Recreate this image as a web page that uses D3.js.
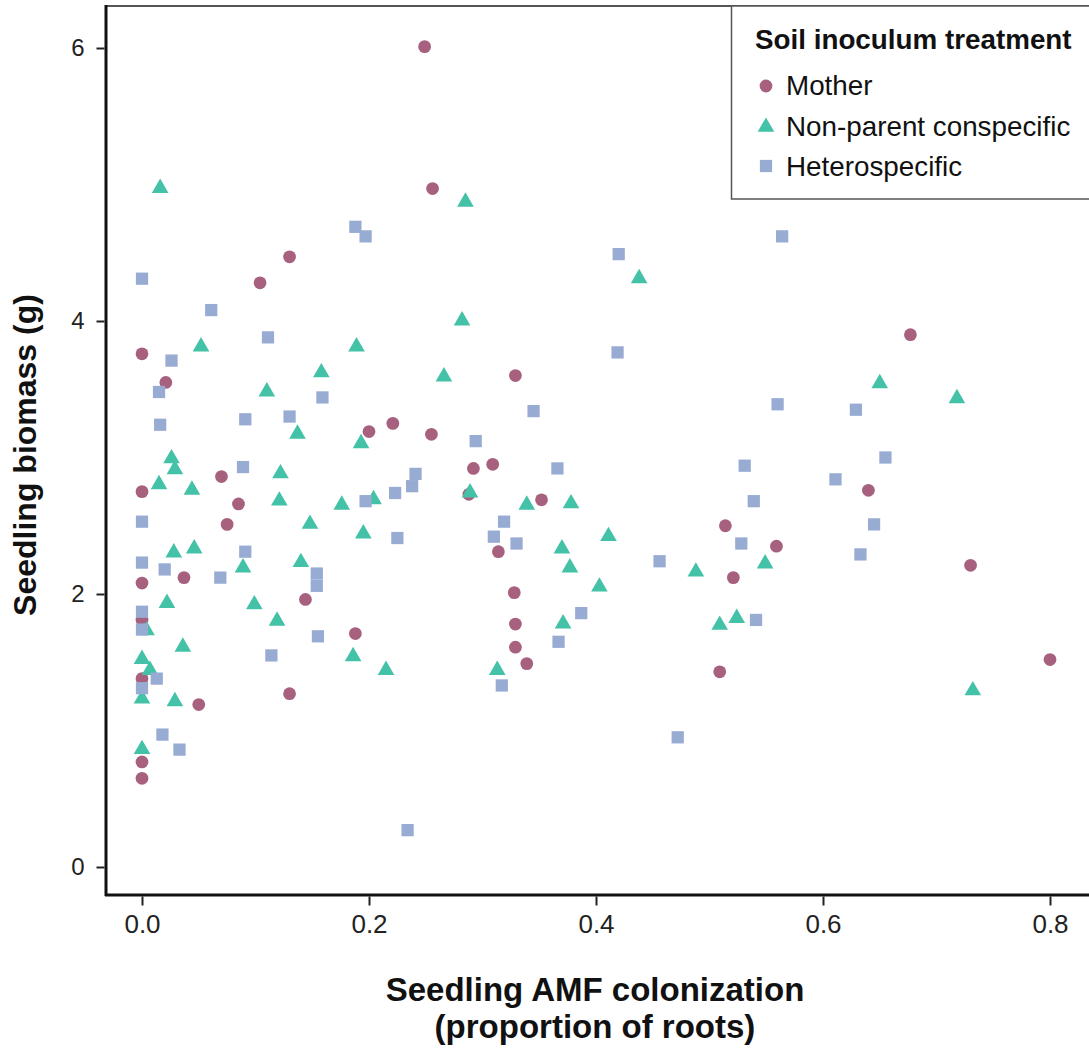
<!DOCTYPE html>
<html><head><meta charset="utf-8">
<script src="https://cdn.jsdelivr.net/npm/d3@7"></script>
<style>body{margin:0;background:#fff}svg{display:block}text{font-family:"Liberation Sans",Arial,sans-serif}</style>
</head><body>
<svg id="c" width="1089" height="1049"></svg>
<script>
const xTicks = [0, 0.2, 0.4, 0.6, 0.8];
const yTicks = [0, 2, 4, 6];
const seriesNames = ["Mother", "Non-parent conspecific", "Heterospecific"];
const seriesColors = ["#a7617f", "#43c2a8", "#97abd3"];
const seriesShapes = ["circle", "triangle", "square"];

const motherX = [0.249,0.256,0.130,0.104,0,0.021,0.677,0.329,0.221,0.200,0.255,0.309,0.292,0.070,0.288,0,0.352,0.085,0.075,0.514,0.559,0.640,0.314,0.037,0,0.521,0.730,0.144,0.328,0,0.329,0.188,0.329,0.339,0.800,0.509,0,0.130,0.050,0,0];
const motherY = [6.01,4.97,4.47,4.28,3.76,3.55,3.90,3.60,3.25,3.19,3.17,2.95,2.92,2.86,2.73,2.75,2.69,2.66,2.51,2.50,2.35,2.76,2.31,2.12,2.08,2.12,2.21,1.96,2.01,1.81,1.78,1.71,1.61,1.49,1.52,1.43,1.38,1.27,1.19,0.77,0.65];

const nonparentX = [0.016,0.285,0.438,0.052,0.189,0.158,0.110,0.137,0.193,0.026,0.029,0.122,0.015,0.044,0.121,0.204,0.176,0.148,0.195,0.028,0.046,0.089,0.140,0.022,0.099,0.119,0.004,0.036,0,0.007,0,0.029,0.186,0.215,0,0.282,0.266,0.289,0.339,0.378,0.411,0.370,0.377,0.488,0.403,0.371,0.313,0.509,0.650,0.718,0.549,0.524,0.732];
const nonparentY = [4.98,4.88,4.32,3.82,3.82,3.63,3.49,3.18,3.11,3.00,2.92,2.89,2.81,2.77,2.69,2.70,2.66,2.52,2.45,2.31,2.34,2.20,2.24,1.94,1.93,1.81,1.74,1.62,1.53,1.45,1.24,1.22,1.55,1.45,0.87,4.01,3.60,2.75,2.66,2.67,2.43,2.34,2.20,2.17,2.06,1.79,1.45,1.78,3.55,3.44,2.23,1.83,1.30];

const heteroX = [0.188,0.197,0,0.061,0.111,0.026,0.015,0.159,0.016,0.091,0.130,0.089,0.197,0.223,0,0.091,0,0.020,0.069,0.154,0.154,0.225,0,0,0.155,0.114,0.013,0,0.018,0.033,0.420,0.419,0.345,0.294,0.366,0.241,0.238,0.319,0.310,0.330,0.456,0.387,0.367,0.317,0.472,0.234,0.564,0.560,0.629,0.655,0.531,0.611,0.539,0.645,0.528,0.633,0.541];
const heteroY = [4.69,4.62,4.31,4.08,3.88,3.71,3.48,3.44,3.24,3.28,3.30,2.93,2.68,2.74,2.53,2.31,2.23,2.18,2.12,2.15,2.06,2.41,1.87,1.74,1.69,1.55,1.38,1.31,0.97,0.86,4.49,3.77,3.34,3.12,2.92,2.88,2.79,2.53,2.42,2.37,2.24,1.86,1.65,1.33,0.95,0.27,4.62,3.39,3.35,3.00,2.94,2.84,2.68,2.51,2.37,2.29,1.81];

const seriesX = [motherX, nonparentX, heteroX];
const seriesY = [motherY, nonparentY, heteroY];

const svg = d3.select("#c");
const x = d3.scaleLinear().domain([0, 0.8]).range([142, 1050]);
const y = d3.scaleLinear().domain([0, 6]).range([867, 48]);
const L = 106, R = 1100, T = 6, B = 895;

const symbolFor = {
  circle: d3.symbol().type(d3.symbolCircle).size(128),
  triangle: d3.symbol().type(d3.symbolTriangle).size(120),
  square: d3.symbol().type(d3.symbolSquare).size(150)
};

// points
const g = svg.append("g");
seriesNames.forEach((name, i) => {
  const pts = seriesX[i].map((v, k) => [v, seriesY[i][k]]);
  g.append("g").selectAll("path").data(pts).join("path")
    .attr("d", symbolFor[seriesShapes[i]])
    .attr("transform", d => `translate(${x(d[0])},${y(d[1]) + (seriesShapes[i]==="triangle"?1:0)})`)
    .attr("fill", seriesColors[i]);
});

// frame
svg.append("line").attr("x1", L).attr("x2", R).attr("y1", T).attr("y2", T).attr("stroke", "#555").attr("stroke-width", 2);
svg.append("line").attr("x1", L).attr("x2", L).attr("y1", T - 1).attr("y2", B + 1).attr("stroke", "#111").attr("stroke-width", 3);
svg.append("line").attr("x1", L - 1).attr("x2", R).attr("y1", B).attr("y2", B).attr("stroke", "#111").attr("stroke-width", 3);

// x axis
const xa = svg.append("g").attr("transform", `translate(0,${B + 1.5})`)
  .call(d3.axisBottom(x).tickValues(xTicks).tickFormat(d3.format(".1f")).tickSize(9).tickSizeOuter(0).tickPadding(9));
xa.select(".domain").remove();
xa.selectAll("line").attr("stroke", "#222").attr("stroke-width", 2);
xa.selectAll("text").attr("font-size", 26).attr("fill", "#222").attr("font-family", "Liberation Sans, Arial, sans-serif");

// y axis
const ya = svg.append("g").attr("transform", `translate(${L - 1.5},0)`)
  .call(d3.axisLeft(y).tickValues(yTicks).tickFormat(d3.format("d")).tickSize(8).tickSizeOuter(0).tickPadding(12));
ya.select(".domain").remove();
ya.selectAll("line").attr("stroke", "#222").attr("stroke-width", 2);
ya.selectAll("text").attr("font-size", 24).attr("fill", "#222").attr("font-family", "Liberation Sans, Arial, sans-serif");

// axis titles
svg.append("text").attr("transform", "translate(36,455) rotate(-90)").attr("text-anchor", "middle")
  .attr("font-size", 32).attr("font-weight", "bold").attr("fill", "#111").text("Seedling biomass (g)");
svg.append("text").attr("x", 595).attr("y", 1001).attr("text-anchor", "middle")
  .attr("font-size", 33).attr("font-weight", "bold").attr("fill", "#111").text("Seedling AMF colonization");
svg.append("text").attr("x", 595).attr("y", 1038).attr("text-anchor", "middle")
  .attr("font-size", 33).attr("font-weight", "bold").attr("fill", "#111").text("(proportion of roots)");

// legend
const lg = svg.append("g");
lg.append("rect").attr("x", 731.5).attr("y", 6).attr("width", 400).attr("height", 193)
  .attr("fill", "#fff").attr("stroke", "#555").attr("stroke-width", 1.5);
lg.append("text").attr("x", 755).attr("y", 49).attr("font-size", 27.8).attr("font-weight", "bold").attr("fill", "#111").text("Soil inoculum treatment");
seriesNames.forEach((name, i) => {
  const cy = 86 + i * 40;
  lg.append("path").attr("d", symbolFor[seriesShapes[i]]).attr("transform", `translate(766,${cy + (i===1?1:0)})`).attr("fill", seriesColors[i]);
  lg.append("text").attr("x", 786).attr("y", 95 + i * 40.5).attr("font-size", 27.8).attr("fill", "#111").text(name);
});
</script>
</body></html>
